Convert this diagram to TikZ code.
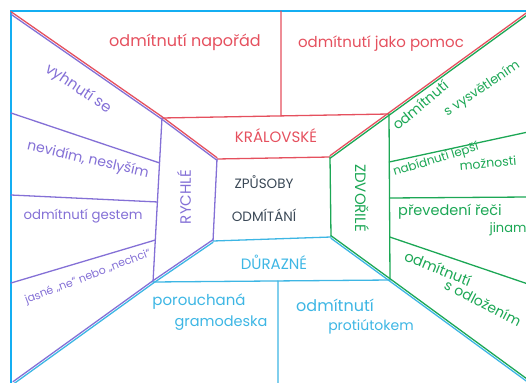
\documentclass[tikz,border=0pt]{standalone}
\usepackage{fontspec}
\setmainfont{Poppins}
\usepackage{xcolor}
\usepackage{tikz}
\usetikzlibrary{calc}

\definecolor{kred}{HTML}{E5505E}
\definecolor{kviolet}{HTML}{8470D6}
\definecolor{kgreen}{HTML}{1CA755}
\definecolor{kblue}{HTML}{3DB6E4}
\definecolor{kframe}{HTML}{14AEF2}
\definecolor{kslate}{HTML}{3A4856}

\tikzset{
  wall/.style={line width=1.3pt, line cap=round, line join=round},
  hand/.style={font=\fontsize{#1}{#1}\selectfont, inner sep=0pt},
  hand/.default=14,
}

\begin{document}
\begin{tikzpicture}[x=1pt, y=-1pt]
\useasboundingbox (0,0) rectangle (526,382);
\clip (0,0) rectangle (526,382);

% Corners of the room
\coordinate (otl) at (11,13);
\coordinate (otr) at (528,13);
\coordinate (obr) at (528,381);
\coordinate (obl) at (13,383);
\coordinate (mtl) at (162,118);
\coordinate (mtr) at (389,114);
\coordinate (mbr) at (390,280);
\coordinate (mbl) at (153,282);
\coordinate (itl) at (217,159);
\coordinate (itr) at (330,157);
\coordinate (ibr) at (331,237);
\coordinate (ibl) at (213,241);

% Frame
\draw[kframe, line width=2.2pt] (11,390) -- (11,11) -- (540,11);

% Diagonals, two colours side by side
\draw[wall, kred]    ([yshift=1.3pt]otl) -- ([yshift=1.3pt]mtl) -- ([yshift=1.3pt]itl);
\draw[wall, kviolet] ([yshift=-1.3pt]otl) -- ([yshift=-1.3pt]mtl) -- ([yshift=-1.3pt]itl);
\draw[wall, kred]    ([yshift=1.3pt]otr) -- ([yshift=1.3pt]mtr) -- ([yshift=1.3pt]itr);
\draw[wall, kgreen]  ([yshift=-1.3pt]otr) -- ([yshift=-1.3pt]mtr) -- ([yshift=-1.3pt]itr);
\draw[wall, kviolet] ([yshift=1.3pt]obl) -- ([yshift=1.3pt]mbl) -- ([yshift=1.3pt]ibl);
\draw[wall, kblue]   ([yshift=-1.3pt]obl) -- ([yshift=-1.3pt]mbl) -- ([yshift=-1.3pt]ibl);
\draw[wall, kgreen]  ([yshift=1.3pt]obr) -- ([yshift=1.3pt]mbr) -- ([yshift=1.3pt]ibr);
\draw[wall, kblue]   ([yshift=-1.3pt]obr) -- ([yshift=-1.3pt]mbr) -- ([yshift=-1.3pt]ibr);

% Rings
\draw[wall, kred] (mtl) -- (mtr);
\draw[wall, kred] (itl) -- (itr);
\draw[wall, kviolet] (mtl) -- (mbl);
\draw[wall, kviolet] (itl) -- (ibl);
\draw[wall, kgreen] (mtr) -- (mbr);
\draw[wall, kgreen] (itr) -- (ibr);
\draw[wall, kblue] (mbl) -- (mbr);
\draw[wall, kblue] (ibl) -- (ibr);

% Panel dividers
\draw[wall, kred] (281,11) -- ($(mtl)!0.524!(mtr)$);
\draw[wall, kblue] ($(mbl)!0.527!(mbr)$) -- (278,390);
\draw[wall, kviolet] (11,113) -- ($(mtl)!0.274!(mbl)$);
\draw[wall, kviolet] (11,195) -- ($(mtl)!0.512!(mbl)$);
\draw[wall, kviolet] (11,283) -- ($(mtl)!0.744!(mbl)$);
\draw[wall, kgreen] ($(mtr)!0.289!(mbr)$) -- (528,132);
\draw[wall, kgreen] ($(mtr)!0.506!(mbr)$) -- (528,197);
\draw[wall, kgreen] ($(mtr)!0.741!(mbr)$) -- (528,284);

% Centre
\node[hand=13.5, kslate] (zpus1) at (264,182) {ZPŮSOBY};
\node[hand=13.5, kslate] (zpus2) at (264,215) {ODMÍTÁNÍ};
\node[hand=15, kred] (kral) at (276,136) {KRÁLOVSKÉ};
\node[hand=15, kblue] (duraz) at (274,262) {DŮRAZNÉ};
\node[hand=15, kviolet, rotate=90] (rych) at (184,197) {RYCHLÉ};
\node[hand=15, kgreen, rotate=-90] (zdvor) at (362,198) {ZDVOŘILÉ};

% Top
\node[hand=16, kred] (napor) at (185,42) {odmítnutí napořád};
\node[hand=15, kred] (pomoc) at (381,44) {odmítnutí jako pomoc};

% Left
\node[hand=15, kviolet, rotate=-34] (vyhnuti) at (78,89) {vyhnutí se};
\node[hand=14, kviolet, rotate=-13] (nevidim) at (88,160) {nevidím, neslyším};
\node[hand=13.3, kviolet] (gestem) at (83,216) {odmítnutí gestem};
\node[hand=11, kviolet, rotate=21] (jasne) at (88,277) {jasné „ne“ nebo „nechci“};

% Right
\node[hand=14, kgreen, rotate=40] (vysv1) at (420,105) {odmítnutí};
\node[hand=13, kgreen, rotate=34] (vysv2) at (482,89) {s vysvětlením};
\node[hand=12, kgreen, rotate=17] (lepsi1) at (436,160) {nabídnutí lepší};
\node[hand=12.5, kgreen, rotate=5] (lepsi2) at (488,163) {možnosti};
\node[hand=14.5, kgreen] (reci1) at (450,212) {převedení řeči};
\node[hand=13, kgreen] (reci2) at (508,229) {jinam};
\node[hand=14.5, kgreen, rotate=-22] (odloz1) at (438,268) {odmítnutí};
\node[hand=14, kgreen, rotate=-27] (odloz2) at (483,303) {s odložením};

% Bottom
\node[hand=15, kblue] (gramo1) at (199,302) {porouchaná};
\node[hand=14.5, kblue] (gramo2) at (221,323) {gramodeska};
\node[hand=16, kblue] (proti1) at (335,305) {odmítnutí};
\node[hand=14, kblue] (proti2) at (371,327) {protiútokem};

\end{tikzpicture}
\end{document}
